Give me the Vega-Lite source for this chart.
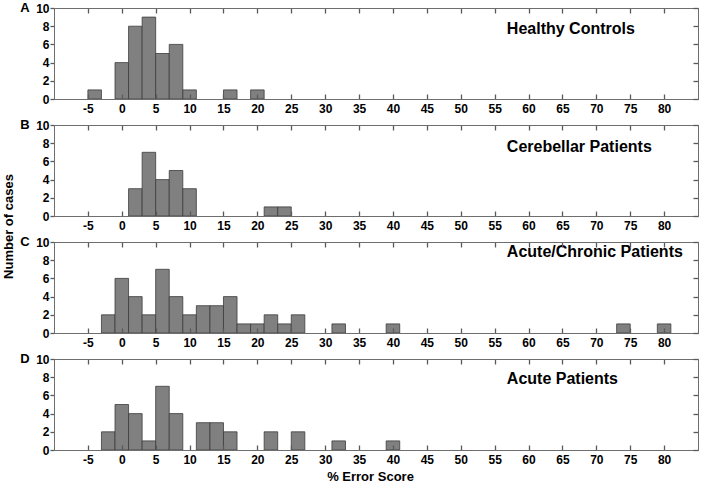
{
  "$schema": "https://vega.github.io/schema/vega-lite/v6.json",
  "padding": {"top": 1, "left": 2, "right": 0, "bottom": 0},
  "background": "white",
  "bounds": "flush",
  "spacing": 26,
  "config": {
    "font": "Liberation Sans",
    "view": {"stroke": "#6e6e6e", "strokeWidth": 1},
    "axis": {
      "grid": false,
      "labelFont": "Liberation Sans",
      "labelFontSize": 12,
      "labelFontWeight": "bold",
      "labelColor": "#000000",
      "titleFont": "Liberation Sans",
      "titleFontSize": 13,
      "titleFontWeight": "bold",
      "titleColor": "#000000"
    }
  },
  "datasets": {
    "bars": [
      {"panel": "A", "lo": -5, "hi": -3, "n": 1},
      {"panel": "A", "lo": -1, "hi": 1, "n": 4},
      {"panel": "A", "lo": 1, "hi": 3, "n": 8},
      {"panel": "A", "lo": 3, "hi": 5, "n": 9},
      {"panel": "A", "lo": 5, "hi": 7, "n": 5},
      {"panel": "A", "lo": 7, "hi": 9, "n": 6},
      {"panel": "A", "lo": 9, "hi": 11, "n": 1},
      {"panel": "A", "lo": 15, "hi": 17, "n": 1},
      {"panel": "A", "lo": 19, "hi": 21, "n": 1},
      {"panel": "B", "lo": 1, "hi": 3, "n": 3},
      {"panel": "B", "lo": 3, "hi": 5, "n": 7},
      {"panel": "B", "lo": 5, "hi": 7, "n": 4},
      {"panel": "B", "lo": 7, "hi": 9, "n": 5},
      {"panel": "B", "lo": 9, "hi": 11, "n": 3},
      {"panel": "B", "lo": 21, "hi": 23, "n": 1},
      {"panel": "B", "lo": 23, "hi": 25, "n": 1},
      {"panel": "C", "lo": -3, "hi": -1, "n": 2},
      {"panel": "C", "lo": -1, "hi": 1, "n": 6},
      {"panel": "C", "lo": 1, "hi": 3, "n": 4},
      {"panel": "C", "lo": 3, "hi": 5, "n": 2},
      {"panel": "C", "lo": 5, "hi": 7, "n": 7},
      {"panel": "C", "lo": 7, "hi": 9, "n": 4},
      {"panel": "C", "lo": 9, "hi": 11, "n": 2},
      {"panel": "C", "lo": 11, "hi": 13, "n": 3},
      {"panel": "C", "lo": 13, "hi": 15, "n": 3},
      {"panel": "C", "lo": 15, "hi": 17, "n": 4},
      {"panel": "C", "lo": 17, "hi": 19, "n": 1},
      {"panel": "C", "lo": 19, "hi": 21, "n": 1},
      {"panel": "C", "lo": 21, "hi": 23, "n": 2},
      {"panel": "C", "lo": 23, "hi": 25, "n": 1},
      {"panel": "C", "lo": 25, "hi": 27, "n": 2},
      {"panel": "C", "lo": 31, "hi": 33, "n": 1},
      {"panel": "C", "lo": 39, "hi": 41, "n": 1},
      {"panel": "C", "lo": 73, "hi": 75, "n": 1},
      {"panel": "C", "lo": 79, "hi": 81, "n": 1},
      {"panel": "D", "lo": -3, "hi": -1, "n": 2},
      {"panel": "D", "lo": -1, "hi": 1, "n": 5},
      {"panel": "D", "lo": 1, "hi": 3, "n": 4},
      {"panel": "D", "lo": 3, "hi": 5, "n": 1},
      {"panel": "D", "lo": 5, "hi": 7, "n": 7},
      {"panel": "D", "lo": 7, "hi": 9, "n": 4},
      {"panel": "D", "lo": 11, "hi": 13, "n": 3},
      {"panel": "D", "lo": 13, "hi": 15, "n": 3},
      {"panel": "D", "lo": 15, "hi": 17, "n": 2},
      {"panel": "D", "lo": 21, "hi": 23, "n": 2},
      {"panel": "D", "lo": 25, "hi": 27, "n": 2},
      {"panel": "D", "lo": 31, "hi": 33, "n": 1},
      {"panel": "D", "lo": 39, "hi": 41, "n": 1}
    ]
  },
  "vconcat": [
    {
      "width": 644, "height": 91,
      "layer": [
        {
          "data": {"name": "bars"},
          "transform": [{"filter": "datum.panel === 'A'"}],
          "mark": {"type": "bar", "fill": "#808080", "stroke": "#3c3c3c", "strokeWidth": 0.8},
          "encoding": {
            "x": {"field": "lo", "type": "quantitative", "scale": {"domain": [-10, 85], "nice": false, "zero": false},
              "axis": {"orient": "bottom", "zindex": 1, "values": [-5,0,5,10,15,20,25,30,35,40,45,50,55,60,65,70,75,80], "domainColor": "#6e6e6e", "tickColor": "#5a5a5a", "tickWidth": 1.3, "tickSize": -5, "labelPadding": 9, "title": null, "labelExpr": "replace(datum.label, '\u2212', '-')"}},
            "x2": {"field": "hi"},
            "y": {"field": "n", "type": "quantitative", "scale": {"domain": [0, 10], "nice": false},
              "axis": {"orient": "left", "zindex": 1, "values": [0,2,4,6,8,10], "domainColor": "#6e6e6e", "tickColor": "#5a5a5a", "tickWidth": 1.3, "tickSize": 4, "labelPadding": 1, "title": null}},
            "y2": {"datum": 0}
          }
        },
        {
          "data": {"values": [{"t": "Healthy Controls"}]},
          "mark": {"type": "text", "align": "left", "baseline": "middle", "fontSize": 16, "fontWeight": "bold", "font": "Liberation Sans", "color": "#000000"},
          "encoding": {
            "x": {"datum": 56.8, "type": "quantitative", "axis": {"orient": "top", "zindex": 1, "values": [-5,0,5,10,15,20,25,30,35,40,45,50,55,60,65,70,75,80], "domainColor": "#6e6e6e", "tickColor": "#5a5a5a", "tickWidth": 1.3, "tickSize": -5, "labels": false, "title": null}},
            "y": {"datum": 7.7, "type": "quantitative", "axis": {"orient": "right", "zindex": 1, "values": [0,2,4,6,8,10], "domainColor": "#6e6e6e", "tickColor": "#5a5a5a", "tickWidth": 1.3, "tickSize": -5, "labels": false, "title": null}},
            "text": {"field": "t"}
          }
        },
        {
          "data": {"values": [{"t": "A"}]},
          "mark": {"type": "text", "align": "center", "baseline": "middle", "fontSize": 13, "fontWeight": "bold", "font": "Liberation Sans", "color": "#000000", "dx": -29},
          "encoding": {
            "x": {"datum": -10, "type": "quantitative", "axis": null},
            "y": {"datum": 10, "type": "quantitative", "axis": null},
            "text": {"field": "t"}
          }
        }
      ],
      "resolve": {"axis": {"x": "independent", "y": "independent"}}
    },
    {
      "width": 644, "height": 91,
      "layer": [
        {
          "data": {"name": "bars"},
          "transform": [{"filter": "datum.panel === 'B'"}],
          "mark": {"type": "bar", "fill": "#808080", "stroke": "#3c3c3c", "strokeWidth": 0.8},
          "encoding": {
            "x": {"field": "lo", "type": "quantitative", "scale": {"domain": [-10, 85], "nice": false, "zero": false},
              "axis": {"orient": "bottom", "zindex": 1, "values": [-5,0,5,10,15,20,25,30,35,40,45,50,55,60,65,70,75,80], "domainColor": "#6e6e6e", "tickColor": "#5a5a5a", "tickWidth": 1.3, "tickSize": -5, "labelPadding": 9, "title": null, "labelExpr": "replace(datum.label, '\u2212', '-')"}},
            "x2": {"field": "hi"},
            "y": {"field": "n", "type": "quantitative", "scale": {"domain": [0, 10], "nice": false},
              "axis": {"orient": "left", "zindex": 1, "values": [0,2,4,6,8,10], "domainColor": "#6e6e6e", "tickColor": "#5a5a5a", "tickWidth": 1.3, "tickSize": 4, "labelPadding": 1, "title": "Number of cases", "titleY": 101, "titlePadding": 20}},
            "y2": {"datum": 0}
          }
        },
        {
          "data": {"values": [{"t": "Cerebellar Patients"}]},
          "mark": {"type": "text", "align": "left", "baseline": "middle", "fontSize": 16, "fontWeight": "bold", "font": "Liberation Sans", "color": "#000000"},
          "encoding": {
            "x": {"datum": 56.8, "type": "quantitative", "axis": {"orient": "top", "zindex": 1, "values": [-5,0,5,10,15,20,25,30,35,40,45,50,55,60,65,70,75,80], "domainColor": "#6e6e6e", "tickColor": "#5a5a5a", "tickWidth": 1.3, "tickSize": -5, "labels": false, "title": null}},
            "y": {"datum": 7.6, "type": "quantitative", "axis": {"orient": "right", "zindex": 1, "values": [0,2,4,6,8,10], "domainColor": "#6e6e6e", "tickColor": "#5a5a5a", "tickWidth": 1.3, "tickSize": -5, "labels": false, "title": null}},
            "text": {"field": "t"}
          }
        },
        {
          "data": {"values": [{"t": "B"}]},
          "mark": {"type": "text", "align": "center", "baseline": "middle", "fontSize": 13, "fontWeight": "bold", "font": "Liberation Sans", "color": "#000000", "dx": -29},
          "encoding": {
            "x": {"datum": -10, "type": "quantitative", "axis": null},
            "y": {"datum": 10, "type": "quantitative", "axis": null},
            "text": {"field": "t"}
          }
        }
      ],
      "resolve": {"axis": {"x": "independent", "y": "independent"}}
    },
    {
      "width": 644, "height": 91,
      "layer": [
        {
          "data": {"name": "bars"},
          "transform": [{"filter": "datum.panel === 'C'"}],
          "mark": {"type": "bar", "fill": "#808080", "stroke": "#3c3c3c", "strokeWidth": 0.8},
          "encoding": {
            "x": {"field": "lo", "type": "quantitative", "scale": {"domain": [-10, 85], "nice": false, "zero": false},
              "axis": {"orient": "bottom", "zindex": 1, "values": [-5,0,5,10,15,20,25,30,35,40,45,50,55,60,65,70,75,80], "domainColor": "#6e6e6e", "tickColor": "#5a5a5a", "tickWidth": 1.3, "tickSize": -5, "labelPadding": 9, "title": null, "labelExpr": "replace(datum.label, '\u2212', '-')"}},
            "x2": {"field": "hi"},
            "y": {"field": "n", "type": "quantitative", "scale": {"domain": [0, 10], "nice": false},
              "axis": {"orient": "left", "zindex": 1, "values": [0,2,4,6,8,10], "domainColor": "#6e6e6e", "tickColor": "#5a5a5a", "tickWidth": 1.3, "tickSize": 4, "labelPadding": 1, "title": null}},
            "y2": {"datum": 0}
          }
        },
        {
          "data": {"values": [{"t": "Acute/Chronic Patients"}]},
          "mark": {"type": "text", "align": "left", "baseline": "middle", "fontSize": 16, "fontWeight": "bold", "font": "Liberation Sans", "color": "#000000"},
          "encoding": {
            "x": {"datum": 56.8, "type": "quantitative", "axis": {"orient": "top", "zindex": 1, "values": [-5,0,5,10,15,20,25,30,35,40,45,50,55,60,65,70,75,80], "domainColor": "#6e6e6e", "tickColor": "#5a5a5a", "tickWidth": 1.3, "tickSize": -5, "labels": false, "title": null}},
            "y": {"datum": 8.9, "type": "quantitative", "axis": {"orient": "right", "zindex": 1, "values": [0,2,4,6,8,10], "domainColor": "#6e6e6e", "tickColor": "#5a5a5a", "tickWidth": 1.3, "tickSize": -5, "labels": false, "title": null}},
            "text": {"field": "t"}
          }
        },
        {
          "data": {"values": [{"t": "C"}]},
          "mark": {"type": "text", "align": "center", "baseline": "middle", "fontSize": 13, "fontWeight": "bold", "font": "Liberation Sans", "color": "#000000", "dx": -29},
          "encoding": {
            "x": {"datum": -10, "type": "quantitative", "axis": null},
            "y": {"datum": 10, "type": "quantitative", "axis": null},
            "text": {"field": "t"}
          }
        }
      ],
      "resolve": {"axis": {"x": "independent", "y": "independent"}}
    },
    {
      "width": 644, "height": 91,
      "layer": [
        {
          "data": {"name": "bars"},
          "transform": [{"filter": "datum.panel === 'D'"}],
          "mark": {"type": "bar", "fill": "#808080", "stroke": "#3c3c3c", "strokeWidth": 0.8},
          "encoding": {
            "x": {"field": "lo", "type": "quantitative", "scale": {"domain": [-10, 85], "nice": false, "zero": false},
              "axis": {"orient": "bottom", "zindex": 1, "values": [-5,0,5,10,15,20,25,30,35,40,45,50,55,60,65,70,75,80], "domainColor": "#6e6e6e", "tickColor": "#5a5a5a", "tickWidth": 1.3, "tickSize": -5, "labelPadding": 9, "title": "% Error Score", "titlePadding": 5, "titleX": 316, "labelExpr": "replace(datum.label, '\u2212', '-')"}},
            "x2": {"field": "hi"},
            "y": {"field": "n", "type": "quantitative", "scale": {"domain": [0, 10], "nice": false},
              "axis": {"orient": "left", "zindex": 1, "values": [0,2,4,6,8,10], "domainColor": "#6e6e6e", "tickColor": "#5a5a5a", "tickWidth": 1.3, "tickSize": 4, "labelPadding": 1, "title": null}},
            "y2": {"datum": 0}
          }
        },
        {
          "data": {"values": [{"t": "Acute Patients"}]},
          "mark": {"type": "text", "align": "left", "baseline": "middle", "fontSize": 16, "fontWeight": "bold", "font": "Liberation Sans", "color": "#000000"},
          "encoding": {
            "x": {"datum": 56.8, "type": "quantitative", "axis": {"orient": "top", "zindex": 1, "values": [-5,0,5,10,15,20,25,30,35,40,45,50,55,60,65,70,75,80], "domainColor": "#6e6e6e", "tickColor": "#5a5a5a", "tickWidth": 1.3, "tickSize": -5, "labels": false, "title": null}},
            "y": {"datum": 7.75, "type": "quantitative", "axis": {"orient": "right", "zindex": 1, "values": [0,2,4,6,8,10], "domainColor": "#6e6e6e", "tickColor": "#5a5a5a", "tickWidth": 1.3, "tickSize": -5, "labels": false, "title": null}},
            "text": {"field": "t"}
          }
        },
        {
          "data": {"values": [{"t": "D"}]},
          "mark": {"type": "text", "align": "center", "baseline": "middle", "fontSize": 13, "fontWeight": "bold", "font": "Liberation Sans", "color": "#000000", "dx": -29},
          "encoding": {
            "x": {"datum": -10, "type": "quantitative", "axis": null},
            "y": {"datum": 10, "type": "quantitative", "axis": null},
            "text": {"field": "t"}
          }
        }
      ],
      "resolve": {"axis": {"x": "independent", "y": "independent"}}
    }
  ]
}
